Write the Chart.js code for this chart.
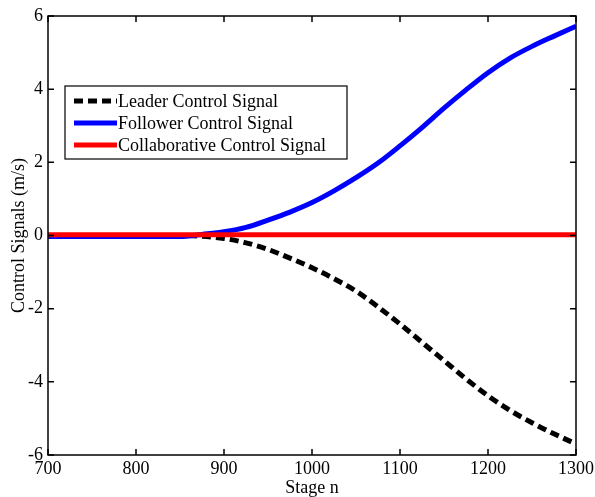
<!DOCTYPE html>
<html>
<head>
<meta charset="utf-8">
<script src="https://cdn.jsdelivr.net/npm/chart.js@4.4.1/dist/chart.umd.min.js"></script>
<style>
    html, body { margin: 0; padding: 0; background: #fff; }
    #wrap { width: 595px; height: 497px; }
</style>
</head>
<body>
<div id="wrap"><canvas id="myChart" width="595" height="497"></canvas></div>
<script>
const stages = [700, 725, 750, 775, 800, 825, 850, 875, 900, 925, 950, 975, 1000, 1025, 1050, 1075, 1100, 1125, 1150, 1175, 1200, 1225, 1250, 1275, 1300]
const leader = [0, 0, 0, 0, 0, 0, 0, -0.02, -0.08, -0.2, -0.38, -0.62, -0.88, -1.18, -1.52, -1.95, -2.42, -2.92, -3.42, -3.92, -4.38, -4.78, -5.12, -5.42, -5.7]
const follower = [-0.03, -0.03, -0.03, -0.03, -0.03, -0.03, -0.03, 0.03, 0.1, 0.22, 0.42, 0.64, 0.9, 1.22, 1.58, 1.98, 2.45, 2.95, 3.48, 3.98, 4.45, 4.85, 5.17, 5.45, 5.72]
const collaborative = [0.02, 0.02, 0.02, 0.02, 0.02, 0.02, 0.02, 0.02, 0.02, 0.02, 0.02, 0.02, 0.02, 0.02, 0.02, 0.02, 0.02, 0.02, 0.02, 0.02, 0.02, 0.02, 0.02, 0.02, 0.02]
const xTicks = [700, 800, 900, 1000, 1100, 1200, 1300]
const yTicks = [-6, -4, -2, 0, 2, 4, 6]

const serif = "'Liberation Serif', 'Times New Roman', serif"

const toPoints = (vals) => stages.map((s, i) => ({ x: s, y: vals[i] }))

// box + inward ticks, matlab style
const boxTicks = {
    id: 'boxTicks',
    afterDatasetsDraw(chart) {
        const { ctx, chartArea: a, scales } = chart
        ctx.save()
        ctx.strokeStyle = '#000'
        ctx.lineWidth = 1.5
        ctx.strokeRect(a.left, a.top, a.right - a.left, a.bottom - a.top)
        ctx.beginPath()
        xTicks.forEach(t => {
            let px = scales.x.getPixelForValue(t)
            ctx.moveTo(px, a.bottom); ctx.lineTo(px, a.bottom - 6)
            ctx.moveTo(px, a.top); ctx.lineTo(px, a.top + 6)
        })
        yTicks.forEach(t => {
            let py = scales.y.getPixelForValue(t)
            ctx.moveTo(a.left, py); ctx.lineTo(a.left + 6, py)
            ctx.moveTo(a.right, py); ctx.lineTo(a.right - 6, py)
        })
        ctx.stroke()
        ctx.restore()
    }
}

// legend drawn inside the plot
const boxLegend = {
    id: 'boxLegend',
    afterDraw(chart) {
        const { ctx } = chart
        const left = 65, top = 86, w = 282, h = 73
        ctx.save()
        ctx.fillStyle = '#fff'
        ctx.fillRect(left, top, w, h)
        ctx.strokeStyle = '#000'
        ctx.lineWidth = 1.2
        ctx.strokeRect(left, top, w, h)
        ctx.font = '18px ' + serif
        ctx.textBaseline = 'middle'
        chart.data.datasets.slice().reverse().forEach((ds, i) => {
            let y = 101 + i * 22
            ctx.strokeStyle = ds.borderColor
            ctx.lineWidth = 5
            ctx.setLineDash(ds.borderDash || [])
            ctx.beginPath()
            ctx.moveTo(74, y); ctx.lineTo(117, y)
            ctx.stroke()
            ctx.setLineDash([])
            ctx.fillStyle = '#000'
            ctx.fillText(ds.label, 118, y + 1)
        })
        ctx.restore()
    }
}

const ctx = document.getElementById('myChart')

new Chart(ctx, {
    type: 'line',
    data: {
        datasets: [
            {
                label: 'Collaborative Control Signal',
                data: toPoints(collaborative),
                borderColor: '#ff0000',
                borderWidth: 5,
                pointRadius: 0,
                order: 0
            },
            {
                label: 'Follower Control Signal',
                data: toPoints(follower),
                borderColor: '#0000ff',
                borderWidth: 5,
                pointRadius: 0,
                cubicInterpolationMode: 'monotone',
                order: 1
            },
            {
                label: 'Leader Control Signal',
                data: toPoints(leader),
                borderColor: '#000000',
                borderWidth: 5,
                borderDash: [9, 5],
                pointRadius: 0,
                cubicInterpolationMode: 'monotone',
                order: 2
            }
        ]
    },
    plugins: [boxTicks, boxLegend],
    options: {
        responsive: false,
        animation: false,
        layout: { padding: { left: 0, top: 16, right: 0, bottom: 0 } },
        plugins: { legend: { display: false }, tooltip: { enabled: false } },
        scales: {
            x: {
                type: 'linear',
                min: 700,
                max: 1300,
                afterBuildTicks: (s) => { s.ticks = xTicks.map(v => ({ value: v })) },
                afterFit: (s) => { s.height = 42; s.paddingRight = 19 },
                grid: { display: false, drawTicks: false },
                border: { display: false },
                ticks: { color: '#000', font: { family: serif, size: 18 }, padding: 3, maxRotation: 0, callback: (v) => String(v) },
                title: { display: true, text: 'Stage n', color: '#000', font: { family: serif, size: 18 }, padding: { top: 0, bottom: -2 } }
            },
            y: {
                min: -6,
                max: 6,
                afterBuildTicks: (s) => { s.ticks = yTicks.map(v => ({ value: v })) },
                afterFit: (s) => { s.width = 48 },
                grid: { display: false, drawTicks: false },
                border: { display: false },
                ticks: { color: '#000', font: { family: serif, size: 18 }, padding: 5 },
                title: { display: true, text: 'Control Signals (m/s)', color: '#000', font: { family: serif, size: 18 }, padding: { top: 8, bottom: 0 } }
            }
        }
    }
})
</script>
</body>
</html>
